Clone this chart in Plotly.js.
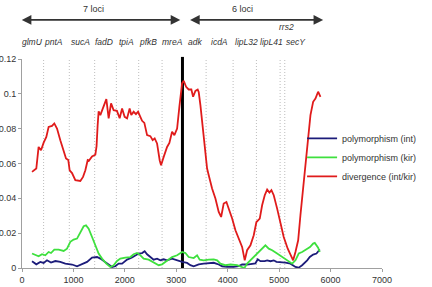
<!DOCTYPE html>
<html><head><meta charset="utf-8">
<script src="https://cdn.plot.ly/plotly-3.0.1.min.js"></script>
<style>html,body{margin:0;padding:0;background:#fff}#chart{width:432px;height:287px}</style>
</head><body><div id="chart"></div>
<script>
// ---- data ----
const intX = [195,278,356,421,486,564,648,745,842,973,1070,1167,1265,1362,1459,1523,1620,1685,1751,1815,1879,1946,2043,2140,2204,2269,2335,2385,2432,2496,2560,2626,2691,2755,2821,2918,3016,3113,3210,3274,3339,3436,3533,3631,3728,3825,3891,3988,4118,4214,4280,4377,4475,4539,4584,4636,4720,4767,4831,4895,4948,5025,5122,5220,5317,5381,5447,5545,5596,5661,5726,5790];
const intY = [0.0039,0.0021,0.0035,0.0029,0.0044,0.0031,0.0040,0.0035,0.0025,0.0020,0.0010,0.0021,0.0035,0.0060,0.0063,0.0054,0.0035,0.0021,0.0006,0.0010,0.0025,0.0025,0.0048,0.0060,0.0073,0.0083,0.0086,0.0096,0.0079,0.0063,0.0048,0.0054,0.0044,0.0050,0.0044,0.0054,0.0044,0.0035,0.0029,0.0016,0.0010,0.0021,0.0025,0.0029,0.0030,0.0020,0.0010,0.0006,0.0006,0.0011,0.0020,0.0020,0.0025,0.0027,0.0050,0.0039,0.0039,0.0044,0.0039,0.0044,0.0035,0.0035,0.0031,0.0025,0.0006,0.0002,0.0016,0.0044,0.0063,0.0077,0.0083,0.0106];

const kirX = [195,259,323,389,453,518,564,628,713,810,875,940,1004,1070,1134,1199,1245,1296,1362,1426,1490,1556,1640,1718,1782,1848,1912,2010,2107,2171,2237,2288,2366,2463,2560,2658,2723,2821,2918,3016,3113,3177,3241,3339,3405,3455,3533,3631,3728,3794,3858,3955,4053,4183,4280,4325,4377,4442,4539,4623,4689,4733,4798,4864,4961,5058,5156,5253,5317,5381,5447,5545,5600,5661,5693,5758,5790];
const kirY = [0.0083,0.0077,0.0067,0.0079,0.0073,0.0092,0.0086,0.0106,0.0106,0.0098,0.0111,0.0150,0.0163,0.0169,0.0207,0.0240,0.0245,0.0226,0.0178,0.0130,0.0083,0.0054,0.0025,0.0006,0.0016,0.0040,0.0054,0.0060,0.0063,0.0079,0.0086,0.0077,0.0054,0.0048,0.0034,0.0016,0.0021,0.0044,0.0063,0.0073,0.0092,0.0086,0.0063,0.0057,0.0073,0.0048,0.0044,0.0048,0.0050,0.0044,0.0025,0.0016,0.0020,0.0016,0.0006,0.0000,0.0025,0.0044,0.0073,0.0102,0.0121,0.0130,0.0111,0.0102,0.0083,0.0063,0.0044,0.0025,0.0044,0.0083,0.0092,0.0111,0.0120,0.0140,0.0144,0.0117,0.0092];

const divX = [195,278,323,370,421,473,518,584,628,681,745,810,856,900,927,973,1037,1134,1187,1232,1277,1300,1362,1426,1450,1471,1490,1523,1576,1640,1685,1732,1782,1846,1899,1946,1996,2043,2093,2125,2171,2216,2257,2288,2335,2379,2432,2496,2541,2580,2626,2677,2704,2755,2821,2866,2918,2963,3016,3060,3113,3144,3191,3241,3293,3327,3372,3416,3436,3469,3521,3566,3599,3631,3696,3761,3825,3872,3922,3975,4020,4086,4150,4214,4280,4331,4377,4442,4506,4558,4623,4669,4720,4767,4811,4850,4895,4961,5025,5089,5167,5220,5272,5317,5370,5414,5479,5545,5609,5661,5706,5758,5803];
const divY = [0.0552,0.0571,0.0695,0.0676,0.0720,0.0753,0.0810,0.0816,0.0830,0.0801,0.0734,0.0667,0.0629,0.0620,0.0560,0.0545,0.0504,0.0500,0.0523,0.0561,0.0619,0.0615,0.0640,0.0650,0.0700,0.0820,0.0900,0.0878,0.0925,0.0970,0.0859,0.0945,0.0906,0.0902,0.0860,0.0916,0.0868,0.0859,0.0916,0.0878,0.0897,0.0883,0.0897,0.0878,0.0845,0.0833,0.0763,0.0757,0.0734,0.0744,0.0715,0.0619,0.0590,0.0638,0.0695,0.0718,0.0782,0.0763,0.0801,0.0925,0.1060,0.1075,0.1040,0.1025,0.1025,0.0983,0.1017,0.1025,0.1010,0.0935,0.0780,0.0648,0.0571,0.0533,0.0456,0.0399,0.0322,0.0293,0.0370,0.0379,0.0341,0.0284,0.0217,0.0169,0.0121,0.0044,0.0102,0.0130,0.0188,0.0264,0.0284,0.0360,0.0418,0.0450,0.0433,0.0447,0.0418,0.0341,0.0264,0.0178,0.0111,0.0073,0.0044,0.0092,0.0159,0.0303,0.0494,0.0705,0.0878,0.0954,0.0973,0.1012,0.0983];

const seriesNames = ['polymorphism (int)','polymorphism (kir)','divergence (int/kir)'];
const lociNames = ['glmU','pntA','sucA','fadD','tpiA','pfkB','mreA','adk','icdA','lipL32','lipL41','secY'];
const lociCenters = [195,609,1134,1601,2029,2457,2924,3372,3839,4364,4850,5337];
const extraLocus = {name:'rrs2', x:5142};
const lociBounds = [420,920,1413,1835,2269,2724,3580,4105,4558,5019,5109];
const groupSplit = 3120;
const groups = [{label:'7 loci', from:-33, to:3078, mid:1390},{label:'6 loci', from:3239, to:5856, mid:4285}];

const FONT = 'Liberation Sans, Arial, sans-serif';
const colors = ['#1c1c7a','#3ee03e','#e01b1b'];

const traces = [
  {x:intX, y:intY, name:seriesNames[0], type:'scatter', mode:'lines', line:{color:colors[0], width:1.8}},
  {x:kirX, y:kirY, name:seriesNames[1], type:'scatter', mode:'lines', line:{color:colors[1], width:1.8}},
  {x:divX, y:divY, name:seriesNames[2], type:'scatter', mode:'lines', line:{color:colors[2], width:1.8}}
];

const shapes = lociBounds.map(b => ({type:'line', xref:'x', yref:'paper', x0:b, x1:b, y0:0, y1:1, layer:'below', line:{color:'#bdbdbd', width:1, dash:'1px,2px'}}));
shapes.push({type:'line', xref:'x', yref:'paper', x0:groupSplit, x1:groupSplit, y0:0, y1:1.01, layer:'below', line:{color:'#000', width:3}});

const annotations = [];
lociNames.forEach((n,i) => annotations.push({xref:'x', yref:'paper', x:lociCenters[i], y:1.0815, text:'<i>'+n+'</i>', showarrow:false, font:{family:FONT, size:8.5, color:'#333'}, xanchor:'center', yanchor:'middle'}));
annotations.push({xref:'x', yref:'paper', x:extraLocus.x, y:1.153, text:'<i>'+extraLocus.name+'</i>', showarrow:false, font:{family:FONT, size:8.5, color:'#333'}, xanchor:'center', yanchor:'middle'});
groups.forEach(g => {
  annotations.push({xref:'x', yref:'paper', x:g.to, y:1.187, axref:'x', ayref:'paper', ax:g.from, ay:1.187, text:'', showarrow:true, arrowside:'end+start', arrowhead:2, arrowsize:1.2, arrowwidth:1.6, arrowcolor:'#333', standoff:0, startstandoff:0});
  annotations.push({xref:'x', yref:'paper', x:g.mid, y:1.2396, text:g.label, showarrow:false, font:{family:FONT, size:9, color:'#333'}, xanchor:'center', yanchor:'middle'});
});

const layout = {
  width:432, height:287,
  margin:{l:22, r:50, t:59, b:19, pad:0, autoexpand:false},
  paper_bgcolor:'#fff', plot_bgcolor:'#fff',
  showlegend:true,
  legend:{x:0.778, y:0.69, xanchor:'left', yanchor:'top', bgcolor:'rgba(0,0,0,0)', font:{family:FONT, size:9, color:'#333'}},
  xaxis:{range:[0,7000], tick0:0, dtick:1000, showgrid:false, zeroline:false, showline:true, linecolor:'#a0a0a0', linewidth:1, ticks:'outside', ticklen:3, tickcolor:'#a0a0a0', tickfont:{family:FONT, size:9, color:'#333'}},
  yaxis:{range:[0,0.12], tick0:0, dtick:0.02, showgrid:false, zeroline:false, showline:true, linecolor:'#a0a0a0', linewidth:1, ticks:'outside', ticklen:3, tickcolor:'#a0a0a0', tickfont:{family:FONT, size:9, color:'#333'}},
  shapes:shapes, annotations:annotations
};

Plotly.newPlot('chart', traces, layout, {staticPlot:true, displayModeBar:false});
</script></body></html>
